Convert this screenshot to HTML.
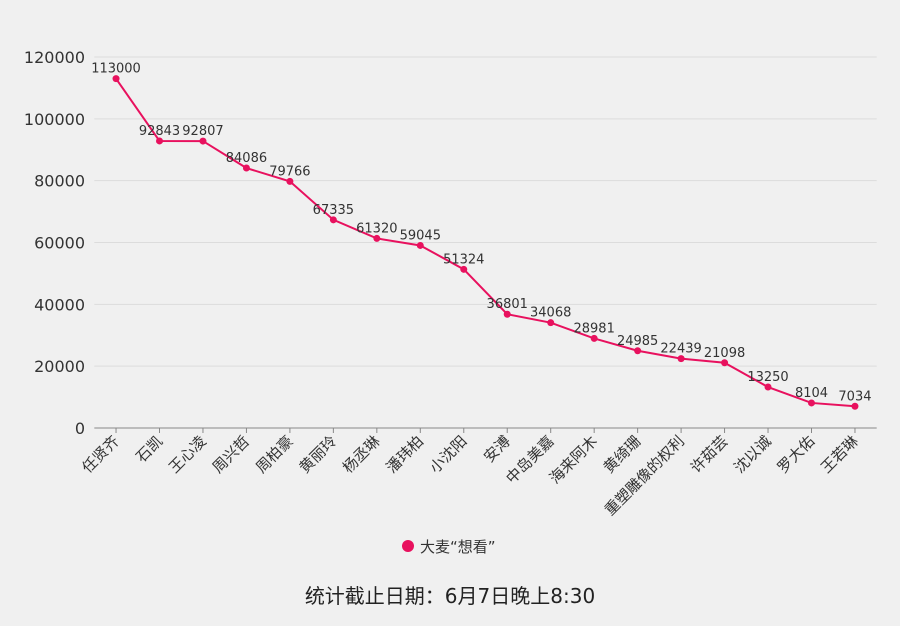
<!DOCTYPE html>
<html><head><meta charset="utf-8"><style>
body{margin:0;background:#f0f0f0;}
svg{display:block;font-family:"DejaVu Sans","Noto Sans CJK SC",sans-serif;}
</style></head><body>
<svg id="chart" width="900" height="626">
<rect width="900" height="626" fill="#f0f0f0"/>
<g id="grid"></g><g id="axes"></g><g id="marks"></g>
<g>
<circle cx="408" cy="546" r="6" fill="#e8115e"/>
<text x="420" y="552" font-size="15" fill="#333">大麦“想看”</text>
</g>
<text x="450" y="603" font-size="20" fill="#222" text-anchor="middle">统计截止日期：6月7日晚上8:30</text>
</svg>
<script>
const categories=["任贤齐","石凯","王心凌","周兴哲","周柏豪","黄丽玲","杨丞琳","潘玮柏","小沈阳","安溥","中岛美嘉","海来阿木","黄绮珊","重塑雕像的权利","许茹芸","沈以诚","罗大佑","王若琳"];
const values=[113000,92843,92807,84086,79766,67335,61320,59045,51324,36801,34068,28981,24985,22439,21098,13250,8104,7034];
const yTicks=[0,20000,40000,60000,80000,100000,120000];
const NS="http://www.w3.org/2000/svg";
const x0=94.3,x1=876.7,yb=428,yt=57,ymax=120000;
const bw=(x1-x0)/categories.length;
const xs=i=>x0+bw*(i+0.5);
const ys=v=>yb-(v/ymax)*(yb-yt);
function mk(tag,attrs,parent,txt){const e=document.createElementNS(NS,tag);for(const k in attrs)e.setAttribute(k,attrs[k]);if(txt!==undefined)e.textContent=txt;document.getElementById(parent).appendChild(e);return e;}
yTicks.forEach(t=>{
 const l=mk('line',{x1:x0,x2:x1,y1:ys(t),y2:ys(t),stroke:t===0?'#888':'#dcdcdc','stroke-width':1},'grid');
 
 
 const tx=mk('text',{x:85,y:ys(t)+6,'text-anchor':'end','font-size':16,fill:'#333'},'axes',t);
 
 
});
categories.forEach((c,i)=>{
 const tk=mk('line',{x1:xs(i),x2:xs(i),y1:yb,y2:yb+5,stroke:'#888'},'axes');
 
 
 const tx=mk('text',{x:xs(i)+4,y:yb+14,'text-anchor':'end','font-size':15,fill:'#333',transform:`rotate(-45 ${xs(i)+4} ${yb+14})`},'axes',c);
 
 
});
const pts=values.map((v,i)=>xs(i)+','+ys(v)).join(' ');
const pl=mk('polyline',{points:pts,fill:'none',stroke:'#e8115e','stroke-width':2},'marks');


values.forEach((v,i)=>{
 const c=mk('circle',{cx:xs(i),cy:ys(v),r:3.5,fill:'#e8115e'},'marks');
 
 
 const t=mk('text',{x:xs(i),y:ys(v)-6,'text-anchor':'middle','font-size':13,fill:'#333'},'marks',v);
 
 
});
</script>
</body></html>
